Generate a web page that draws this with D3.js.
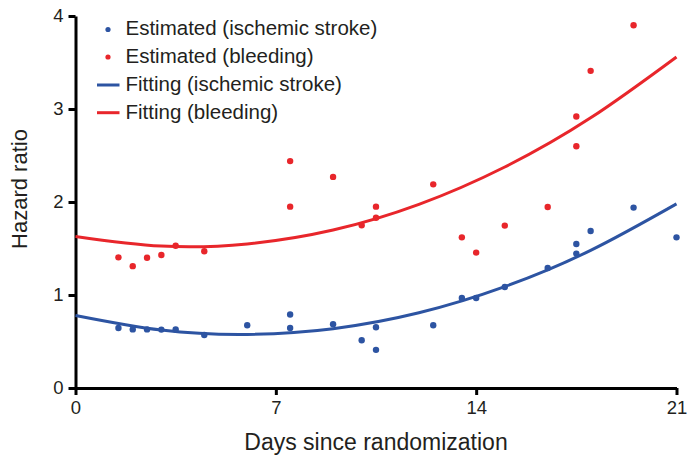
<!DOCTYPE html>
<html>
<head>
<meta charset="utf-8">
<script src="https://cdn.jsdelivr.net/npm/d3@7"></script>
<style>
  body { margin: 0; background: #fff; }
  svg text { font-family: "Liberation Sans", Arial, sans-serif; fill: #231f20; }
</style>
</head>
<body>
<script>
// estimated hazard ratios
var strokeDays = [1.5, 2, 2.5, 3, 3.5, 4.5, 6, 7.5, 7.5, 9, 10, 10.5, 10.5, 12.5, 13.5, 14, 15, 16.5, 17.5, 17.5, 18, 19.5, 21];
var strokeHR = [0.645, 0.63, 0.63, 0.628, 0.63, 0.57, 0.674, 0.79, 0.645, 0.685, 0.513, 0.653, 0.41, 0.674, 0.968, 0.968, 1.086, 1.29, 1.548, 1.445, 1.688, 1.94, 1.62];
var bleedDays = [1.5, 2, 2.5, 3, 3.5, 4.5, 7.5, 7.5, 9, 10, 10.5, 10.5, 12.5, 13.5, 14, 15, 16.5, 17.5, 17.5, 18, 19.5];
var bleedHR = [1.405, 1.31, 1.40, 1.43, 1.53, 1.47, 2.44, 1.95, 2.27, 1.75, 1.95, 1.83, 2.19, 1.62, 1.456, 1.746, 1.946, 2.60, 2.92, 3.41, 3.90];

// fitted curves, sampled from the figure
var fitDays = [0, 3, 6, 9, 12, 15, 18, 21];
var fitStroke = [0.78, 0.623, 0.576, 0.638, 0.809, 1.09, 1.48, 1.98];
var fitBleed = [1.63, 1.526, 1.549, 1.698, 1.974, 2.376, 2.905, 3.56];

var xTicks = [0, 7, 14, 21];
var yTicks = [0, 1, 2, 3, 4];
var legendLabels = ["Estimated (ischemic stroke)", "Estimated (bleeding)", "Fitting (ischemic stroke)", "Fitting (bleeding)"];

var blue = "#2d54a2", red = "#e8262b";

var width = 687, height = 455;
var svg = d3.select("body").append("svg")
    .attr("width", width)
    .attr("height", height);

var x = d3.scaleLinear().domain([0, 21]).range([75.5, 676.5]);
var y = d3.scaleLinear().domain([0, 4]).range([388, 16]);

// axes
var xAxis = svg.append("g")
    .attr("transform", "translate(0," + y(0) + ")")
    .call(d3.axisBottom(x).tickValues(xTicks).tickFormat(d3.format("d"))
        .tickSize(7).tickSizeOuter(0).tickPadding(6));
var yAxis = svg.append("g")
    .attr("transform", "translate(" + x(0) + ",0)")
    .call(d3.axisLeft(y).tickValues(yTicks).tickFormat(d3.format("d"))
        .tickSize(7).tickSizeOuter(0).tickPadding(5));

[xAxis, yAxis].forEach(function(a) {
    a.select(".domain").attr("stroke", "#000").attr("stroke-width", 3);
    a.selectAll(".tick line").attr("stroke", "#000").attr("stroke-width", 3);
    a.selectAll(".tick text").style("font-size", "18.5px").attr("fill", "#231f20");
});

svg.append("text")
    .attr("x", (x(0) + x(21)) / 2)
    .attr("y", 450)
    .attr("text-anchor", "middle")
    .style("font-size", "23px")
    .text("Days since randomization");

svg.append("text")
    .attr("transform", "translate(27,189) rotate(-90)")
    .attr("text-anchor", "middle")
    .style("font-size", "22px")
    .text("Hazard ratio");

// fitted curves
var line = d3.line()
    .x(function(d) { return x(d[0]); })
    .y(function(d) { return y(d[1]); })
    .curve(d3.curveNatural);

svg.append("path")
    .datum(fitDays.map(function(d, i) { return [d, fitStroke[i]]; }))
    .attr("d", line)
    .attr("fill", "none")
    .attr("stroke", blue)
    .attr("stroke-width", 3);

svg.append("path")
    .datum(fitDays.map(function(d, i) { return [d, fitBleed[i]]; }))
    .attr("d", line)
    .attr("fill", "none")
    .attr("stroke", red)
    .attr("stroke-width", 3);

// points
svg.append("g").selectAll("circle")
    .data(strokeDays.map(function(d, i) { return [d, strokeHR[i]]; }))
    .enter().append("circle")
    .attr("cx", function(d) { return x(d[0]); })
    .attr("cy", function(d) { return y(d[1]); })
    .attr("r", 3.2)
    .attr("fill", blue);

svg.append("g").selectAll("circle")
    .data(bleedDays.map(function(d, i) { return [d, bleedHR[i]]; }))
    .enter().append("circle")
    .attr("cx", function(d) { return x(d[0]); })
    .attr("cy", function(d) { return y(d[1]); })
    .attr("r", 3.2)
    .attr("fill", red);

// legend
var legend = svg.append("g");
var rowY = [29.5, 57, 85, 112.7];
var legendColors = [blue, red, blue, red];
legendLabels.forEach(function(t, i) {
    if (i < 2) {
        legend.append("circle")
            .attr("cx", 108).attr("cy", rowY[i]).attr("r", 2.6)
            .attr("fill", legendColors[i]);
    } else {
        legend.append("line")
            .attr("x1", 97).attr("x2", 119.5)
            .attr("y1", rowY[i]).attr("y2", rowY[i])
            .attr("stroke", legendColors[i]).attr("stroke-width", 3);
    }
    legend.append("text")
        .attr("x", 125.5)
        .attr("y", rowY[i] + 5.8)
        .style("font-size", "20.5px")
        .text(t);
});
</script>
</body>
</html>
